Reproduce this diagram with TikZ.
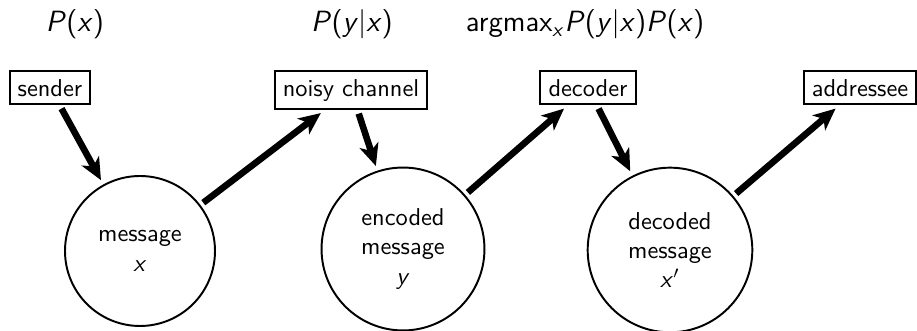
\documentclass[tikz,border=0pt]{standalone}
\usetikzlibrary{arrows.meta}
\newcommand\mi[1]{\textit{#1}}
\tikzset{
  box/.style={draw, line width=0.8pt, rectangle, anchor=north, font=\sffamily},
  msg/.style={draw, line width=0.8pt, circle, align=center, font=\sffamily, inner sep=0pt},
  lbl/.style={anchor=base, font=\sffamily\large},
  flow/.style={line width=2.7pt, -{Stealth[length=9pt,width=8pt,inset=2.5pt]}, shorten >=2pt, shorten <=1.5pt}
}
\begin{document}
\begin{tikzpicture}[x=0.41pt, y=-0.41pt]
\useasboundingbox (0,0) rectangle (917,331);
\node[lbl] (px) at (75,32) {\mi{P}(\mi{x})};
\node[lbl] (pyx) at (352,32) {\mi{P}(\mi{y}|\mi{x})};
\node[lbl] (amax) at (585,32) {argmax\textsubscript{\mi{x}}\mi{P}(\mi{y}|\mi{x})\mi{P}(\mi{x})};
\node[box] (sender) at (50,70) {sender};
\node[box] (channel) at (351,70) {noisy channel};
\node[box] (decoder) at (588,70) {decoder};
\node[box] (addressee) at (860,70) {addressee};
\node[msg, minimum size=61.5pt] (message) at (140,251) {message\\ \mi{x}};
\node[msg, minimum size=66.8pt] (encoded) at (403,249) {encoded\\ message\\ \mi{y}};
\node[msg, minimum size=67.5pt] (decoded) at (670,250) {decoded\\ message\\ \mi{x}$'$};
\draw[flow] (sender) -- (message);
\draw[flow] (message) -- (channel);
\draw[flow] (channel) -- (encoded);
\draw[flow] (encoded) -- (decoder);
\draw[flow] (decoder) -- (decoded);
\draw[flow] (decoded) -- (addressee);
\end{tikzpicture}
\end{document}
